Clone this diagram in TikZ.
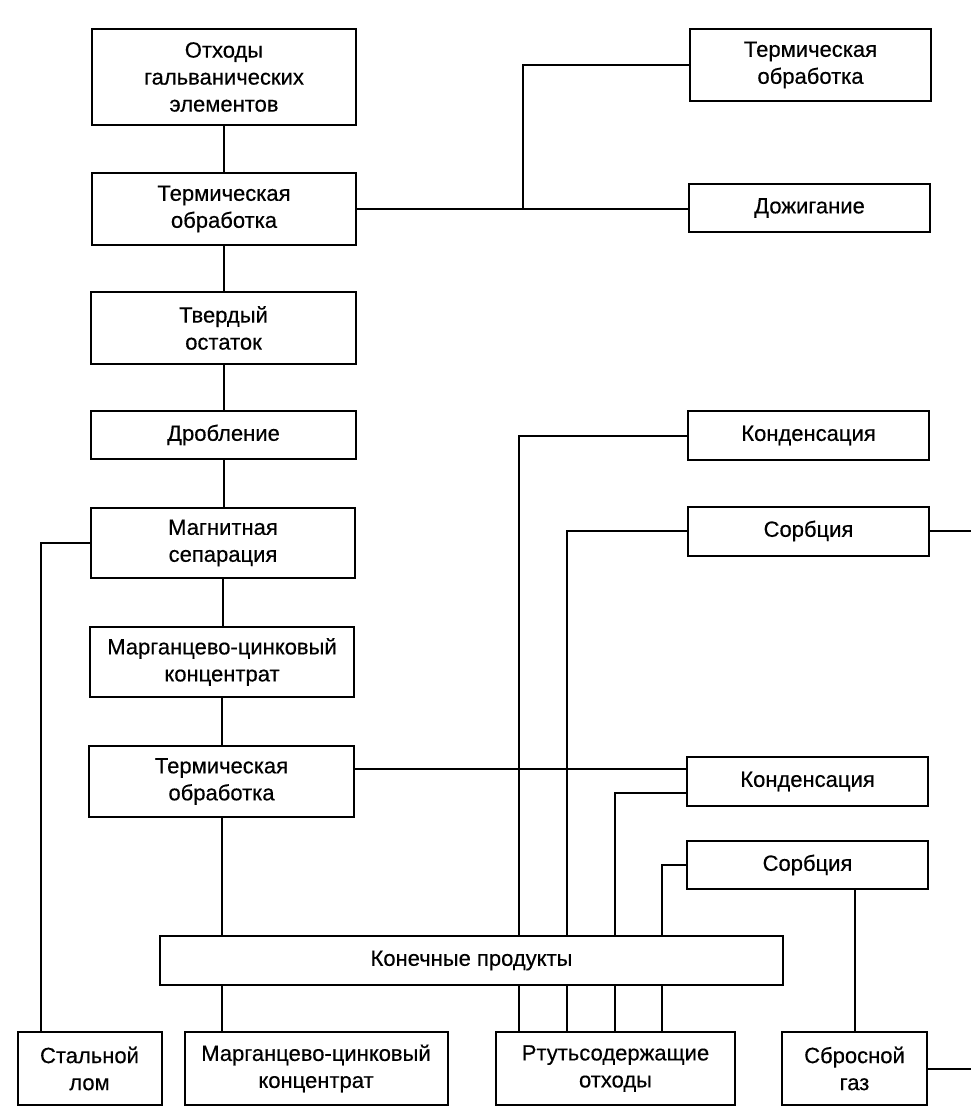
\documentclass[tikz,border=0pt]{standalone}
\usepackage{fontspec}
\setmainfont[FakeBold=0.4]{Liberation Sans}
\begin{document}
\begin{tikzpicture}[x=1pt,y=-1pt,
  box/.style={draw,line width=2pt,rectangle,align=center,inner sep=0pt,
    font=\fontsize{22}{27}\selectfont},
  conn/.style={line width=2pt}]
\useasboundingbox[fill=white] (0,0) rectangle (971,1107);
% left column
\node[box,minimum width=264pt,minimum height=96pt] (b1) at (224,77) {Отходы\\гальванических\\элементов};
\node[box,minimum width=264pt,minimum height=72pt] (b2) at (224,209) {Термическая\\обработка};
\node[box,minimum width=265pt,minimum height=72pt] (b3) at (223.5,328) {Твердый\\остаток};
\node[box,minimum width=265pt,minimum height=48pt] (b4) at (223.5,435) {Дробление};
\node[box,minimum width=264pt,minimum height=70pt] (b5) at (223,543) {Магнитная\\сепарация};
\node[box,minimum width=264pt,minimum height=70pt] (b6) at (222,662) {Марганцево-цинковый\\концентрат};
\node[box,minimum width=265pt,minimum height=71pt] (b7) at (221.5,781.5) {Термическая\\обработка};
% final products
\node[box,minimum width=623pt,minimum height=49pt] (kp) at (471.5,960.5) {Конечные продукты};
% bottom row
\node[box,minimum width=144pt,minimum height=73pt] (s1) at (89.5,1068.5) {Стальной\\лом};
\node[box,minimum width=263pt,minimum height=73pt] (s2) at (316,1068.5) {Марганцево-цинковый\\концентрат};
\node[box,minimum width=239pt,minimum height=73pt] (s3) at (615.5,1068.5) {Ртутьсодержащие\\отходы};
\node[box,minimum width=145pt,minimum height=73pt] (s4) at (854.5,1068.5) {Сбросной\\газ};
% right column
\node[box,minimum width=241pt,minimum height=72pt] (r1) at (810.5,65) {Термическая\\обработка};
\node[box,minimum width=241pt,minimum height=48pt] (r2) at (809.5,208) {Дожигание};
\node[box,minimum width=241pt,minimum height=49pt] (k1) at (808.5,435.5) {Конденсация};
\node[box,minimum width=241pt,minimum height=49pt] (c1) at (808.5,531) {Сорбция};
\node[box,minimum width=241pt,minimum height=49pt] (k2) at (807.5,781.5) {Конденсация};
\node[box,minimum width=241pt,minimum height=48pt] (c2) at (807.5,865) {Сорбция};
% edge coordinates
\coordinate (edge) at (971,0);
\coordinate (j1) at (523,209);
% main chain
\draw[conn] (b1.south) -- (b1.south |- b2.north);
\draw[conn] (b2.south) -- (b2.south |- b3.north);
\draw[conn] (b3.south) -- (b3.south |- b4.north);
\draw[conn] (b4.south) -- (b4.south |- b5.north);
\draw[conn] (b5.south) -- (b5.south |- b6.north);
\draw[conn] (b6.south) -- (b6.south |- b7.north);
\draw[conn] (b7.south) -- (b7.south |- kp.north);
\draw[conn] (b7.south |- kp.south) -- (b7.south |- s2.north);
% top branch
\draw[conn] (b2.east) -- (b2.east -| r2.west);
\draw[conn] (j1) |- (r1.west);
% steel scrap
\draw[conn] (b5.west) -| ([xshift=24.5pt]s1.north west);
% thermal 2 to condensation 2
\draw[conn] ([yshift=12.5pt]b7.east) -- ([yshift=12.5pt]k2.west);
% verticals from final products
\draw[conn] ([xshift=360pt]kp.north west) |- (k1.west);
\draw[conn] ([xshift=408pt]kp.north west) |- (c1.west);
\draw[conn] ([xshift=456pt]kp.north west) |- ([yshift=-11.5pt]k2.west);
\draw[conn] ([xshift=503pt]kp.north west) |- (c2.west);
\draw[conn] ([xshift=360pt]kp.south west) -- ([xshift=360pt]kp.south west |- s3.north);
\draw[conn] ([xshift=408pt]kp.south west) -- ([xshift=408pt]kp.south west |- s3.north);
\draw[conn] ([xshift=456pt]kp.south west) -- ([xshift=456pt]kp.south west |- s3.north);
\draw[conn] ([xshift=503pt]kp.south west) -- ([xshift=503pt]kp.south west |- s3.north);
% sorption 2 to exhaust gas
\draw[conn] (s4.north) -- (s4.north |- c2.south);
% outgoing lines to the right edge
\draw[conn] (c1.east) -- (c1.east -| edge);
\draw[conn] (s4.east) -- (s4.east -| edge);
\end{tikzpicture}
\end{document}
